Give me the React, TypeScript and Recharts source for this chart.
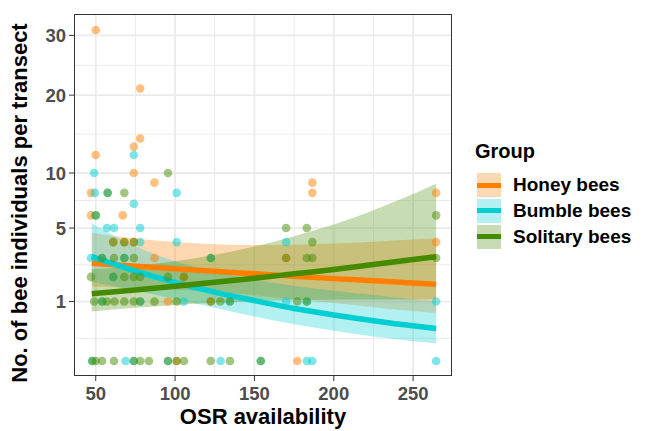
import React from 'react';
import {
  ComposedChart,
  Area,
  Line,
  Scatter,
  XAxis,
  YAxis,
  CartesianGrid,
} from 'recharts';

const honeyPoints = [
  { x: 50, y: 31 }, { x: 78, y: 21 }, { x: 78, y: 14 }, { x: 74, y: 13 }, { x: 50, y: 12 },
  { x: 74, y: 10 }, { x: 87, y: 9 }, { x: 47, y: 8 }, { x: 47, y: 6 }, { x: 67, y: 6 },
  { x: 61, y: 4 }, { x: 68, y: 4 }, { x: 74, y: 4 }, { x: 87, y: 3 }, { x: 170, y: 3 },
  { x: 105.5, y: 2 }, { x: 95.5, y: 1 }, { x: 122.5, y: 1 }, { x: 101, y: 0 }, { x: 177, y: 0 },
  { x: 186.5, y: 9 }, { x: 186.5, y: 8 }, { x: 264.5, y: 8 }, { x: 264.5, y: 4 },
];

const bumblePoints = [
  { x: 74, y: 12 }, { x: 49, y: 10 }, { x: 101, y: 8 }, { x: 49.5, y: 8 }, { x: 57.5, y: 8 },
  { x: 74, y: 7 }, { x: 50, y: 6 }, { x: 57, y: 5 }, { x: 61.5, y: 5 }, { x: 78, y: 5 },
  { x: 101, y: 4 }, { x: 78, y: 4 }, { x: 170, y: 4 }, { x: 47, y: 3 }, { x: 54, y: 3 },
  { x: 68, y: 3 }, { x: 122.5, y: 3 }, { x: 61, y: 2 }, { x: 54, y: 1 }, { x: 78, y: 1 },
  { x: 105.5, y: 1 }, { x: 134.5, y: 1 }, { x: 170, y: 1 }, { x: 183, y: 1 }, { x: 264.5, y: 1 },
  { x: 47.8, y: 0 }, { x: 68.8, y: 0 }, { x: 74, y: 0 }, { x: 95.5, y: 0 }, { x: 128.7, y: 0 },
  { x: 154, y: 0 }, { x: 183, y: 0 }, { x: 186.5, y: 0 }, { x: 264.5, y: 0 },
];

const solitaryPoints = [
  { x: 95.5, y: 10 }, { x: 57.5, y: 8 }, { x: 68, y: 8 }, { x: 50, y: 6 }, { x: 61, y: 4 },
  { x: 68, y: 4 }, { x: 74, y: 4 }, { x: 170, y: 5 }, { x: 183, y: 5 }, { x: 186.5, y: 4 },
  { x: 264.5, y: 6 }, { x: 61.5, y: 3 }, { x: 68, y: 3 }, { x: 74, y: 3 }, { x: 54, y: 3 },
  { x: 122.5, y: 3 }, { x: 170, y: 3 }, { x: 183, y: 3 }, { x: 186.5, y: 3 }, { x: 264.5, y: 3 },
  { x: 47, y: 2 }, { x: 61, y: 2 }, { x: 68, y: 2 }, { x: 74, y: 2 }, { x: 78, y: 2 },
  { x: 95.5, y: 2 }, { x: 105.5, y: 2 }, { x: 49, y: 1 }, { x: 54, y: 1 }, { x: 57, y: 1 },
  { x: 61.8, y: 1 }, { x: 68, y: 1 }, { x: 74, y: 1 }, { x: 78, y: 1 }, { x: 87, y: 1 },
  { x: 101, y: 1 }, { x: 122.5, y: 1 }, { x: 128.5, y: 1 }, { x: 134.5, y: 1 }, { x: 177, y: 1 },
  { x: 183, y: 1 }, { x: 47.8, y: 0 }, { x: 50, y: 0 }, { x: 54, y: 0 }, { x: 61.5, y: 0 },
  { x: 74, y: 0 }, { x: 78, y: 0 }, { x: 83.5, y: 0 }, { x: 95.5, y: 0 }, { x: 101, y: 0 },
  { x: 105.6, y: 0 }, { x: 122.4, y: 0 }, { x: 134.6, y: 0 }, { x: 154, y: 0 },
];

// Fitted curves and their confidence bands, sampled along OSR availability
const fitX = [47.5, 75, 100, 125, 150, 175, 200, 225, 250, 264.5];
const honeyFit = [2.7, 2.54, 2.41, 2.28, 2.15, 2.03, 1.92, 1.82, 1.72, 1.66];
const honeyLo = [1.56, 1.52, 1.45, 1.35, 1.22, 1.08, 0.95, 0.82, 0.71, 0.65];
const honeyHi = [4.66, 4.24, 4.0, 3.86, 3.8, 3.82, 3.9, 4.02, 4.17, 4.25];
const bumbleFit = [3.08, 2.29, 1.75, 1.34, 1.03, 0.78, 0.6, 0.46, 0.35, 0.3];
const bumbleLo = [1.77, 1.41, 1.09, 0.8, 0.56, 0.38, 0.26, 0.17, 0.11, 0.089];
const bumbleHi = [5.37, 3.72, 2.81, 2.25, 1.88, 1.59, 1.4, 1.23, 1.08, 1.01];
const solitaryFit = [1.28, 1.43, 1.58, 1.75, 1.94, 2.15, 2.37, 2.63, 2.91, 3.08];
const solitaryLo = [0.69, 0.8, 0.89, 0.96, 1.01, 1.05, 1.06, 1.07, 1.07, 1.07];
const solitaryHi = [2.38, 2.56, 2.82, 3.19, 3.71, 4.41, 5.28, 6.44, 7.9, 8.9];

const xTicks = [50, 100, 150, 200, 250];
const xMinor = [75, 125, 175, 225];
const yTicks = [1, 5, 10, 20, 30];
const yMinor = [0.146, 2.618, 7.286, 14.57, 24.74];

const COLORS = {
  honey: '#FF7F00',
  bumble: '#00CED1',
  solitary: '#458B00',
};

const LEGEND = [
  { key: 'honey', label: 'Honey bees' },
  { key: 'bumble', label: 'Bumble bees' },
  { key: 'solitary', label: 'Solitary bees' },
] as const;

const FONT = '"Liberation Sans", Arial, sans-serif';

const fitData = fitX.map((x, i) => ({
  x,
  honey: honeyFit[i],
  honeyBand: [honeyLo[i], honeyHi[i]],
  bumble: bumbleFit[i],
  bumbleBand: [bumbleLo[i], bumbleHi[i]],
  solitary: solitaryFit[i],
  solitaryBand: [solitaryLo[i], solitaryHi[i]],
}));

const dot = (color: string) => (props: any) =>
  <circle cx={props.cx} cy={props.cy} r={4.3} fill={color} fillOpacity={0.5} />;

const tickStyle = { fill: '#4D4D4D', fontSize: 18.5, fontWeight: 'bold', fontFamily: FONT };

export default function App() {
  return (
    <div style={{ position: 'absolute', left: 0, top: 0, width: 645, height: 431, background: '#fff', fontFamily: FONT }}>
      <ComposedChart
        width={645}
        height={431}
        data={fitData}
        margin={{ top: 14, right: 193, bottom: 0, left: 0 }}
      >
        <CartesianGrid
          stroke="#EBEBEB"
          strokeWidth={1}
          horizontalValues={yMinor}
          verticalValues={xMinor}
        />
        <CartesianGrid
          stroke="#EBEBEB"
          strokeWidth={1.8}
          horizontalValues={yTicks}
          verticalValues={xTicks}
        />
        <XAxis
          type="number"
          dataKey="x"
          domain={[36.3, 274.5]}
          allowDataOverflow
          ticks={xTicks}
          height={55}
          tick={tickStyle}
          tickSize={5}
          tickMargin={6}
          stroke="#333333"
          axisLine={false}
        />
        <YAxis
          type="number"
          scale="sqrt"
          domain={[-0.0637, 34.07]}
          allowDataOverflow
          ticks={yTicks}
          width={74}
          tick={tickStyle}
          tickSize={5}
          tickMargin={3}
          stroke="#333333"
          axisLine={false}
        />

        <Scatter data={honeyPoints} dataKey="y" shape={dot(COLORS.honey)} isAnimationActive={false} />
        <Scatter data={bumblePoints} dataKey="y" shape={dot(COLORS.bumble)} isAnimationActive={false} />
        <Scatter data={solitaryPoints} dataKey="y" shape={dot(COLORS.solitary)} isAnimationActive={false} />

        <Area type="monotone" dataKey="honeyBand" stroke="none" fill={COLORS.honey} fillOpacity={0.3} isAnimationActive={false} />
        <Area type="monotone" dataKey="bumbleBand" stroke="none" fill={COLORS.bumble} fillOpacity={0.3} isAnimationActive={false} />
        <Area type="monotone" dataKey="solitaryBand" stroke="none" fill={COLORS.solitary} fillOpacity={0.3} isAnimationActive={false} />

        <Line type="monotone" dataKey="honey" stroke={COLORS.honey} strokeWidth={5.5} dot={false} isAnimationActive={false} />
        <Line type="monotone" dataKey="bumble" stroke={COLORS.bumble} strokeWidth={5.5} dot={false} isAnimationActive={false} />
        <Line type="monotone" dataKey="solitary" stroke={COLORS.solitary} strokeWidth={5.5} dot={false} isAnimationActive={false} />
      </ComposedChart>

      {/* panel border */}
      <div style={{ position: 'absolute', left: 74, top: 14, width: 378, height: 362, border: '1.3px solid #333', boxSizing: 'border-box', pointerEvents: 'none' }} />

      {/* axis titles */}
      <div style={{ position: 'absolute', left: 74, width: 378, top: 404, textAlign: 'center', fontSize: 22, fontWeight: 'bold', color: '#000' }}>
        OSR availability
      </div>
      <div style={{ position: 'absolute', left: 20, top: 203, width: 0, height: 0 }}>
        <div style={{ position: 'absolute', left: -250, top: -13, width: 500, textAlign: 'center', transform: 'rotate(-90deg)', fontSize: 22, fontWeight: 'bold', color: '#000', whiteSpace: 'nowrap' }}>
          No. of bee individuals per transect
        </div>
      </div>

      {/* legend */}
      <div style={{ position: 'absolute', left: 475, top: 140, fontSize: 20, fontWeight: 'bold', color: '#000' }}>Group</div>
      {LEGEND.map((item, i) => (
        <div key={item.key} style={{ position: 'absolute', left: 477, top: 173 + i * 25.8, height: 24, display: 'flex', alignItems: 'center' }}>
          <div style={{ width: 24, height: 24, position: 'relative', background: COLORS[item.key] }}>
            <div style={{ position: 'absolute', inset: 0, background: '#fff', opacity: 0.7 }} />
            <div style={{ position: 'absolute', left: 0, right: 0, top: 9.5, height: 5, background: COLORS[item.key] }} />
          </div>
          <span style={{ marginLeft: 12, fontSize: 19, fontWeight: 'bold' }}>{item.label}</span>
        </div>
      ))}
    </div>
  );
}
